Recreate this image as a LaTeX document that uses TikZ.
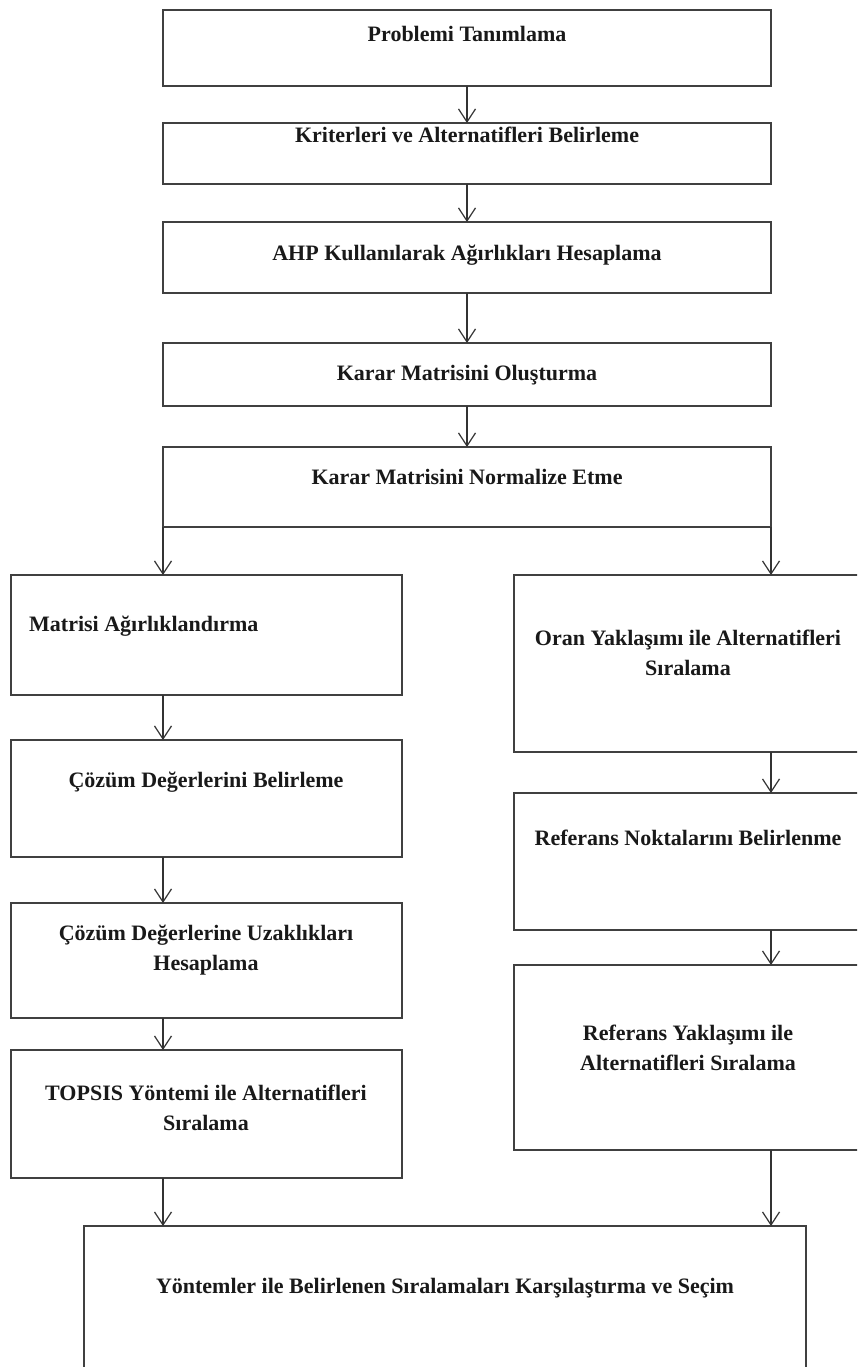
\documentclass[tikz,border=0pt]{standalone}
\usepackage{fontspec}
\setmainfont{Liberation Serif}
\usetikzlibrary{arrows.meta}
\tikzset{
  box/.style={draw=black!75, line width=1.8pt, inner sep=0pt, outer sep=0pt, fill=white},
  lbl/.style={font=\fontsize{22}{30}\selectfont\bfseries, inner sep=0pt, text=black!90},
  arr/.style={draw=black!80, line width=1.2pt, -{Straight Barb[length=13pt,width=17pt]}}
}
\newcommand{\mybox}[5]{%
  \node[box, minimum width={(#4-#2)*1pt}, minimum height={(#5-#3)*1pt}] (#1) at ({(#2+#4)/2},{(#3+#5)/2}) {};}
\begin{document}
\begin{tikzpicture}[x=1pt,y=-1pt]
\useasboundingbox (0,0) rectangle (857,1367);
\fill[white] (0,0) rectangle (857,1367);
\clip (0,0) rectangle (857,1367);
% top column
\mybox{b1}{163}{10}{771}{86}
\mybox{b2}{163}{123}{771}{184}
\mybox{b3}{163}{222}{771}{293}
\mybox{b4}{163}{343}{771}{406}
\mybox{b5}{163}{447}{771}{527}
% left column
\mybox{A}{11}{575}{402}{695}
\mybox{B}{11}{740}{402}{857}
\mybox{C}{11}{903}{402}{1018}
\mybox{D}{11}{1050}{402}{1178}
% right column
\mybox{R1}{514}{575}{880}{752}
\mybox{R2}{514}{793}{880}{930}
\mybox{R3}{514}{965}{880}{1150}
% final
\mybox{F}{84}{1226}{806}{1400}

% labels
\node[lbl, anchor=base] (t1) at (467,42) {Problemi Tanımlama};
\node[lbl, anchor=base] (t2) at (467,143) {Kriterleri ve Alternatifleri Belirleme};
\node[lbl, anchor=base] (t3) at (467,260) {AHP Kullanılarak Ağırlıkları Hesaplama};
\node[lbl, anchor=base] (t4) at (467,380) {Karar Matrisini Oluşturma};
\node[lbl, anchor=base] (t5) at (467,484) {Karar Matrisini Normalize Etme};
\node[lbl, anchor=base west] (tA) at (29,631) {Matrisi Ağırlıklandırma};
\node[lbl, anchor=base] (tB) at (206,787) {Çözüm Değerlerini Belirleme};
\node[lbl, anchor=base] (tC1) at (206,940) {Çözüm Değerlerine Uzaklıkları};
\node[lbl, anchor=base] (tC2) at (206,970) {Hesaplama};
\node[lbl, anchor=base] (tD1) at (206,1100) {TOPSIS Yöntemi ile Alternatifleri};
\node[lbl, anchor=base] (tD2) at (206,1130) {Sıralama};
\node[lbl, anchor=base] (tR1a) at (688,645) {Oran Yaklaşımı ile Alternatifleri};
\node[lbl, anchor=base] (tR1b) at (688,675) {Sıralama};
\node[lbl, anchor=base] (tR2) at (688,845) {Referans Noktalarını Belirlenme};
\node[lbl, anchor=base] (tR3a) at (688,1040) {Referans Yaklaşımı ile};
\node[lbl, anchor=base] (tR3b) at (688,1070) {Alternatifleri Sıralama};
\node[lbl, anchor=base] (tF) at (445,1293) {Yöntemler ile Belirlenen Sıralamaları Karşılaştırma ve Seçim};

% connectors
\draw[arr] (b1.south) -- (b2.north);
\draw[arr] (b2.south) -- (b3.north);
\draw[arr] (b3.south) -- (b4.north);
\draw[arr] (b4.south) -- (b5.north);
\draw[arr] (b5.south west) -- (b5.south west |- A.north);
\draw[arr] (b5.south east) -- (b5.south east |- R1.north);
\draw[arr] (A.south -| b5.south west) -- (B.north -| b5.south west);
\draw[arr] (B.south -| b5.south west) -- (C.north -| b5.south west);
\draw[arr] (C.south -| b5.south west) -- (D.north -| b5.south west);
\draw[arr] (D.south -| b5.south west) -- (F.north -| b5.south west);
\draw[arr] (R1.south -| b5.south east) -- (R2.north -| b5.south east);
\draw[arr] (R2.south -| b5.south east) -- (R3.north -| b5.south east);
\draw[arr] (R3.south -| b5.south east) -- (F.north -| b5.south east);
\end{tikzpicture}
\end{document}
